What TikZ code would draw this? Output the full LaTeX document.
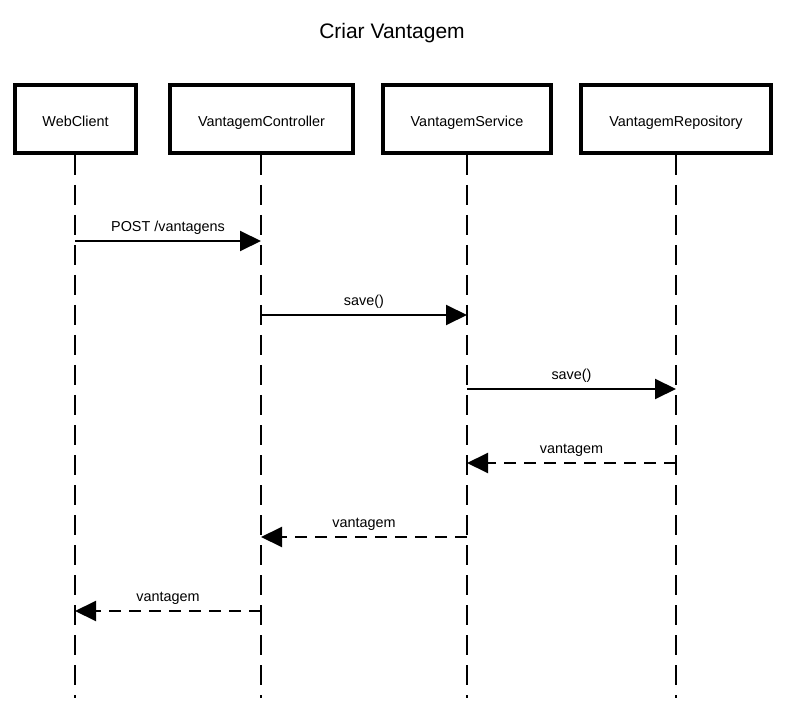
\documentclass[tikz,border=0pt]{standalone}
\usepackage{fontspec}
\setmainfont{Liberation Sans}
\usetikzlibrary{arrows.meta}
\begin{document}
\begin{tikzpicture}[x=1pt,y=-1pt,
  actor/.style={draw,line width=4.5pt,minimum height=68pt,inner sep=0pt,text height=16pt,text depth=0pt,font=\fontsize{14.4}{17}\selectfont},
  life/.style={line width=2pt,dash pattern=on 20pt off 10pt},
  msg/.style={line width=2pt,-{Triangle[length=21pt,width=20pt]}},
  ret/.style={msg,dash pattern=on 12pt off 8pt},
  lbl/.style={font=\fontsize{14.4}{17}\selectfont,inner sep=0pt}]
\useasboundingbox (0,0) rectangle (785,703);
\node[font=\fontsize{21}{25}\selectfont] (title) at (392,33) {Criar Vantagem};
\node[actor,minimum width=121pt] (wc) at (75.5,119) {WebClient};
\node[actor,minimum width=183pt] (ctl) at (261.5,119) {VantagemController};
\node[actor,minimum width=168pt] (svc) at (467,119) {VantagemService};
\node[actor,minimum width=190pt] (rep) at (676,119) {VantagemRepository};
\coordinate (wcE) at (75,698);
\coordinate (ctlE) at (261,698);
\coordinate (svcE) at (467,698);
\coordinate (repE) at (676,698);
\draw[life] (75,155) -- (wcE);
\draw[life] (261,155) -- (ctlE);
\draw[life] (467,155) -- (svcE);
\draw[life] (676,155) -- (repE);
% message points
\coordinate (m1a) at (75,241);  \coordinate (m1b) at (261,241);
\coordinate (m2a) at (261,315); \coordinate (m2b) at (467,315);
\coordinate (m3a) at (467,389); \coordinate (m3b) at (676,389);
\coordinate (m4a) at (676,463); \coordinate (m4b) at (467,463);
\coordinate (m5a) at (467,537); \coordinate (m5b) at (261,537);
\coordinate (m6a) at (261,611); \coordinate (m6b) at (75,611);
\draw[msg] (m1a) -- node[lbl,above=6pt] (l1) {POST /vantagens} (m1b);
\draw[msg] (m2a) -- node[lbl,above=6pt] (l2) {save()} (m2b);
\draw[msg] (m3a) -- node[lbl,above=6pt] (l3) {save()} (m3b);
\draw[ret] (m4a) -- node[lbl,above=6pt] (l4) {vantagem} (m4b);
\draw[ret] (m5a) -- node[lbl,above=6pt] (l5) {vantagem} (m5b);
\draw[ret] (m6a) -- node[lbl,above=6pt] (l6) {vantagem} (m6b);
\end{tikzpicture}
\end{document}
